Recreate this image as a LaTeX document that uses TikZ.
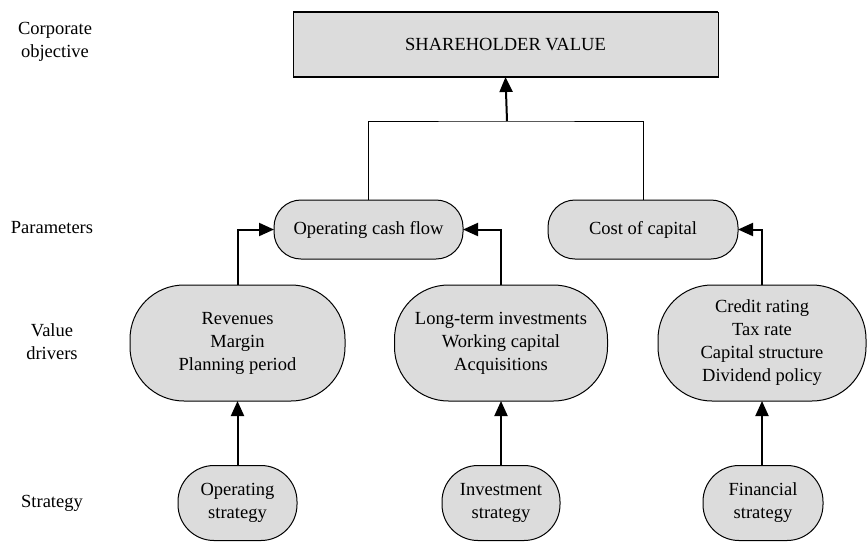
\documentclass[tikz,border=0pt]{standalone}
\usepackage{fontspec}
\setmainfont{Liberation Serif}
\usetikzlibrary{arrows.meta}
\definecolor{boxgray}{HTML}{DCDCDC}
\begin{document}
\begin{tikzpicture}[x=1pt,y=-1pt,
  every node/.style={font=\fontsize{18.5}{23}\selectfont, align=center, inner sep=0pt, outer sep=0pt},
  pill/.style={draw, line width=1pt, fill=boxgray, rectangle, rounded corners=#1},
  topbox/.style={draw, line width=0.9pt, fill=boxgray, rectangle},
  conn/.style={line width=1pt},
  arr/.style={line width=2pt, -{Triangle[length=15pt,width=13pt]}}]
\useasboundingbox (0,0) rectangle (867,542);

% left labels
\node (lcorp) at (55,42) {Corporate\\objective};
\node (lpar) at (52,228) {Parameters};
\node (lval) at (52,342) {Value\\drivers};
\node (lstr) at (52,503) {Strategy};

% top box
\node[topbox, minimum width=425pt, minimum height=65pt] (sv) at (505.5,44.5) {SHAREHOLDER VALUE};
\draw[line width=2.5pt] (sv.north west) -- (sv.north east);
\draw[line width=2.8pt] (sv.south west) -- (sv.south east);

% parameters
\node[pill=27pt, minimum width=189pt, minimum height=59pt] (ocf) at (368.5,229.5) {Operating cash flow};
\node[pill=27pt, minimum width=190pt, minimum height=59pt] (coc) at (643,229.5) {Cost of capital};

% value drivers
\node[pill=54pt, minimum width=215pt, minimum height=116pt] (rev) at (237.5,343) {Revenues\\Margin\\Planning period};
\node[pill=54pt, minimum width=213pt, minimum height=116pt] (lti) at (501,343) {Long-term investments\\Working capital\\Acquisitions};
\node[pill=54pt, minimum width=208pt, minimum height=116pt] (cr) at (762,343) {Credit rating\\Tax rate\\Capital structure\\Dividend policy};

% strategy
\node[pill=36pt, minimum width=119pt, minimum height=75pt] (os) at (237.5,503) {Operating\\strategy};
\node[pill=36pt, minimum width=118pt, minimum height=75pt] (is) at (501,503) {Investment\\strategy};
\node[pill=36pt, minimum width=120pt, minimum height=75pt] (fs) at (763,503) {Financial\\strategy};

% connectors
\coordinate (j) at (507,121);
\draw[conn] (ocf.north) |- (j) -| (coc.north);
\draw[arr] (j) -- (sv.south);
\draw[arr] (rev.north) |- (ocf.west);
\draw[arr] (lti.north) |- (ocf.east);
\draw[arr] (cr.north) |- (coc.east);
\draw[arr] (os.north) -- (rev.south);
\draw[arr] (is.north) -- (lti.south);
\draw[arr] (fs.north -| cr.south) -- (cr.south);
\end{tikzpicture}
\end{document}
